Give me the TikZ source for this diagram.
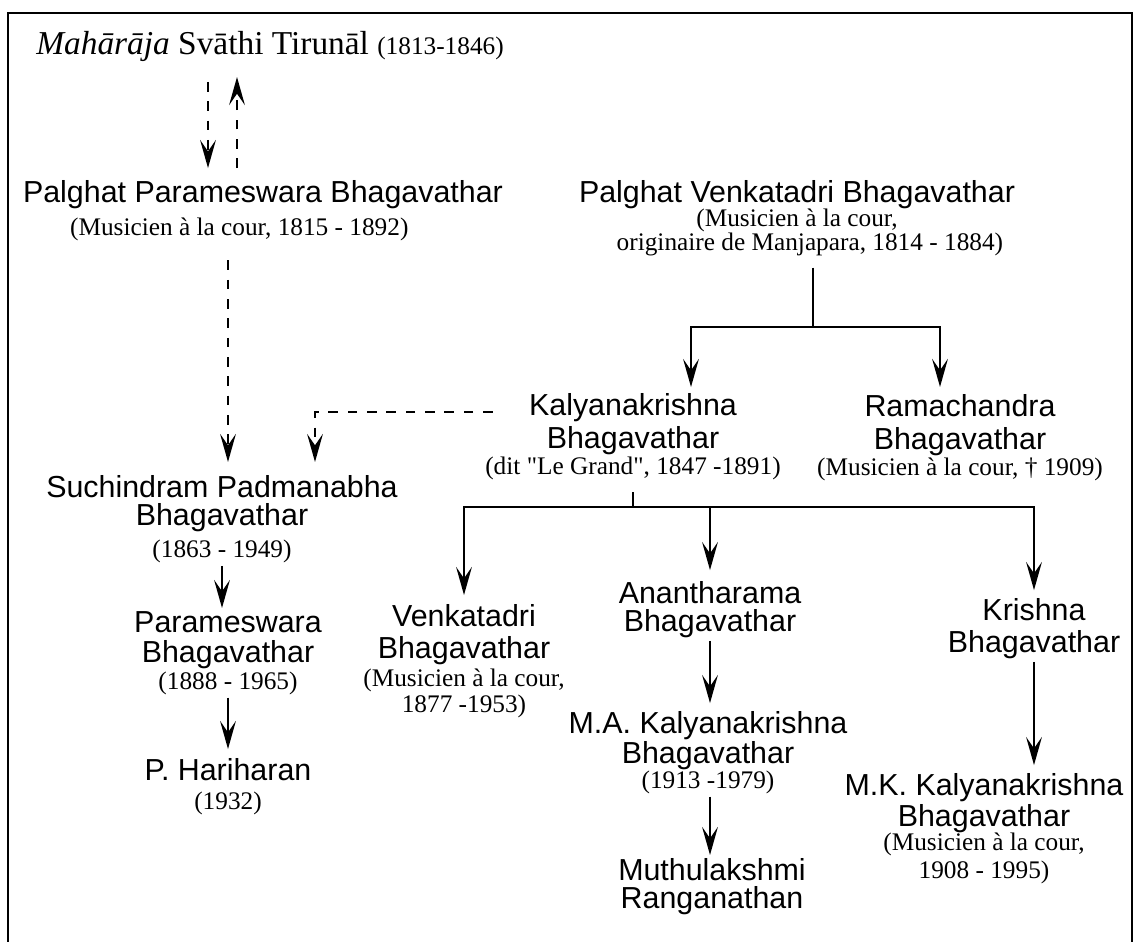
\documentclass[tikz,border=0pt]{standalone}
\usepackage{fontspec}
\setmainfont{Liberation Serif}
\newfontfamily\helv{Liberation Sans}
\usetikzlibrary{arrows.meta}
\newcommand\nmfont{\helv\fontsize{17.3pt}{17pt}\selectfont}
\newcommand\dtfont{\rmfamily\fontsize{14.4pt}{15pt}\selectfont}
\newcommand\topfont{\rmfamily\fontsize{19pt}{21pt}\selectfont}

\begin{document}
\begin{tikzpicture}[x=0.02cm,y=-0.02cm,
                person/.style={align=center,font=\nmfont,inner sep=1.7pt,anchor=north},
                link/.style={line width=1.2pt},
                arr/.style={link,-{Stealth[length=16pt,width=9pt,inset=6.5pt]}},
                darr/.style={arr,dash pattern=on 5.5pt off 5.5pt}]
                \useasboundingbox (0,0) rectangle (1136,942);
                \draw[line width=1.3pt] (8,942) -- (8,13) -- (1132,13) -- (1132,942);
                \node[anchor=base west,font=\topfont,inner sep=1.7pt] (maharaja) at (33,55) {\textit{Mahārāja} Svāthi Tirunāl {\dtfont (1813-1846)}};
                \node[person] (parames) at (263,177) {Palghat Parameswara Bhagavathar\\[1.7pt]{\dtfont (Musicien à la cour, 1815 - 1892)\hspace*{27pt}}};
                \node[person] (venk) at (797,177) {Palghat Venkatadri Bhagavathar\\[-3.4pt]{\dtfont (Musicien à la cour,\hspace*{13.6pt}}\\[-3.4pt]{\dtfont\hspace*{14.7pt}originaire de Manjapara, 1814 - 1884)}};
                \node[person] (kaly) at (633,390) {Kalyanakrishna\\[1.7pt]Bhagavathar\\[-2.3pt]{\dtfont (dit \textquotedbl Le Grand\textquotedbl, 1847 -1891)}};
                \node[person] (rama) at (960,391) {Ramachandra\\[1.7pt]Bhagavathar\\[-2.3pt]{\dtfont (Musicien à la cour, † 1909)}};
                \node[person] (suchi) at (222,472) {Suchindram Padmanabha\\[-1.1pt]Bhagavathar\\[1.1pt]{\dtfont (1863 - 1949)}};
                \node[person] (param) at (228,608) {Parameswara\\Bhagavathar\\[-1.7pt]{\dtfont (1888 - 1965)}};
                \node[person] (hari) at (228,755) {P. Hariharan\\[-0.6pt]{\dtfont (1932)}};
                \node[person] (venkc) at (464,601) {Venkatadri\\[1.1pt]Bhagavathar\\[-1.1pt]{\dtfont (Musicien à la cour,}\\[-1.7pt]{\dtfont 1877 -1953)}};
                \node[person] (anan) at (710,578) {Anantharama\\[-1.1pt]Bhagavathar};
                \node[person] (makal) at (708,708) {M.A. Kalyanakrishna\\Bhagavathar\\[-2.9pt]{\dtfont (1913 -1979)}};
                \node[person] (muthu) at (712,855) {Muthulakshmi\\[-1.1pt]Ranganathan};
                \node[person] (krish) at (1034,595) {Krishna\\[1.1pt]Bhagavathar};
                \node[person] (mkal) at (984,770) {M.K. Kalyanakrishna\\[0.6pt]Bhagavathar\\[-3.4pt]{\dtfont (Musicien à la cour,}\\[-0.6pt]{\dtfont 1908 - 1995)}};
                \draw[darr,shorten <=9.4pt,shorten >=5.1pt] (208,0 |- maharaja.south) -- (208,0 |- parames.north);
                \draw[darr,shorten <=5.1pt,shorten >=6.6pt] (237,0 |- parames.north) -- (237,0 |- maharaja.south);
                \draw[darr,shorten <=9.4pt,shorten >=5.7pt] (228,0 |- parames.south) -- (228,0 |- suchi.north);
                \draw[darr,shorten <=-6pt,shorten >=5.7pt] (kaly.west |- 0,412) -| (315,0 |- suchi.north);
                \coordinate (vbar) at (813,327);
                \draw[link,shorten <=5pt] (vbar |- venk.south) -- (vbar);
                \draw[arr,shorten >=1.7pt] (vbar) -| (691,0 |- kaly.north);
                \draw[arr,shorten >=2.3pt] (vbar) -| (940,0 |- rama.north);
                \coordinate (kbar) at (633,507);
                \draw[link,shorten <=5.4pt] (kaly.south) -- (kbar);
                \draw[arr,shorten >=3.4pt] (kbar) -| (venkc.north);
                \draw[arr,shorten >=4.5pt] (kbar) -| (anan.north);
                \draw[arr,shorten >=2.8pt] (kbar) -| (krish.north);
                \draw[arr] (suchi.south) -- (suchi.south |- param.north);
                \draw[arr,shorten >=3.4pt] (param.south) -- (param.south |- hari.north);
                \draw[arr,shorten >=2.8pt] (anan.south) -- (anan.south |- makal.north);
                \draw[arr] (anan.south |- makal.south) -- (anan.south |- muthu.north);
                \draw[arr,shorten >=2.8pt] (krish.south) -- (krish.south |- mkal.north);
            \end{tikzpicture}
\end{document}
